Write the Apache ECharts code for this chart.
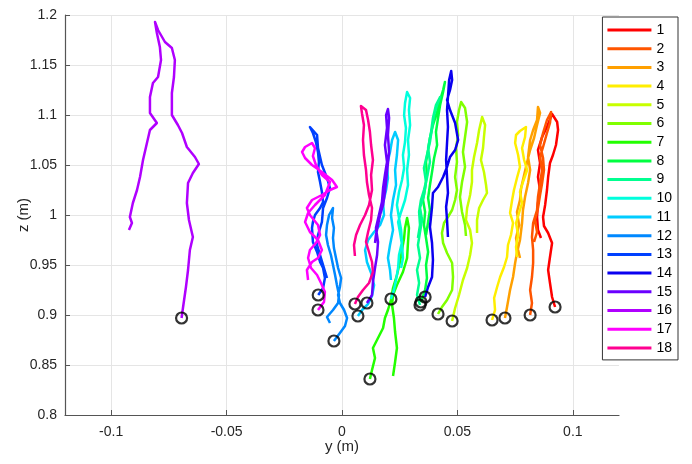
<!DOCTYPE html>
<html>
<head>
<meta charset="utf-8">
<script src="https://cdn.jsdelivr.net/npm/echarts@6/dist/echarts.min.js"></script>
<style>
  html, body { margin: 0; padding: 0; background: #fff; }
  #chart { width: 692px; height: 464px; }
</style>
</head>
<body>
<div id="chart"></div>
<script>
// trajectory labels and colours (hsv-like colormap)
const names = ['1','2','3','4','5','6','7','8','9','10','11','12','13','14','15','16','17','18'];
const colors = ['#ff0000','#ff5500','#ffa000','#ffee00','#c8ff00','#80ff00','#22ff00','#00ff40','#00ff90',
                '#00ffdd','#00ccff','#0088ff','#0040ff','#0a00f0','#6a00ff','#b000ff','#ff00ff','#ff0090'];
const xTicks = [-0.1, -0.05, 0, 0.05, 0.1];

// each trajectory: [y, z] points, first point = start (circled)
const t1 = [[0.0923,0.908],[0.0910,0.918],[0.0901,0.932],[0.0893,0.945],[0.0901,0.958],[0.0910,0.972],[0.0893,0.982],
  [0.0875,0.989],[0.0871,0.998],[0.0880,1.010],[0.0888,1.025],[0.0893,1.038],[0.0901,1.052],[0.0914,1.060],[0.0927,1.070],
  [0.0936,1.085],[0.0932,1.093],[0.0910,1.101],[0.0888,1.088],[0.0867,1.078],[0.0849,1.065],[0.0858,1.052],[0.0849,1.038],
  [0.0858,1.025],[0.0849,1.012],[0.0845,0.998],[0.0849,0.985],[0.0862,0.977]];
const t2 = [[0.0815,0.900],[0.0823,0.912],[0.0815,0.925],[0.0823,0.938],[0.0828,0.952],[0.0828,0.965],[0.0823,0.978],
  [0.0828,0.992],[0.0845,1.005],[0.0849,1.018],[0.0858,1.032],[0.0867,1.045],[0.0858,1.058],[0.0871,1.068],[0.0888,1.082],
  [0.0901,1.092],[0.0906,1.103],[0.0888,1.095],[0.0871,1.082],[0.0858,1.070],[0.0871,1.057],[0.0875,1.045],[0.0867,1.032],
  [0.0858,1.020],[0.0849,1.007],[0.0836,0.995],[0.0845,0.983],[0.0832,0.973]];
const t3 = [[0.0706,0.897],[0.0715,0.908],[0.0728,0.925],[0.0741,0.938],[0.0750,0.952],[0.0758,0.962],[0.0771,0.975],
  [0.0780,0.992],[0.0784,1.005],[0.0793,1.018],[0.0806,1.032],[0.0815,1.045],[0.0806,1.058],[0.0815,1.075],[0.0828,1.085],
  [0.0845,1.095],[0.0849,1.108],[0.0858,1.102],[0.0845,1.090],[0.0832,1.077],[0.0815,1.065],[0.0802,1.053],[0.0789,1.040],
  [0.0776,1.027],[0.0771,1.015],[0.0758,1.003],[0.0767,0.990],[0.0754,0.977],[0.0763,0.965],[0.0771,0.957]];
const t4 = [[0.0650,0.895],[0.0663,0.905],[0.0659,0.917],[0.0672,0.928],[0.0685,0.938],[0.0702,0.948],[0.0715,0.958],
  [0.0719,0.970],[0.0732,0.980],[0.0741,0.992],[0.0728,1.002],[0.0737,1.015],[0.0745,1.025],[0.0758,1.037],[0.0771,1.048],
  [0.0763,1.060],[0.0750,1.072],[0.0754,1.080],[0.0771,1.084],[0.0797,1.088],[0.0793,1.078],[0.0780,1.067],[0.0789,1.055],
  [0.0802,1.045],[0.0784,1.033],[0.0771,1.023],[0.0780,1.012],[0.0767,1.002],[0.0754,0.992],[0.0763,0.980],[0.0754,0.968],
  [0.0758,0.958]];
const t5 = [[0.0477,0.894],[0.0490,0.907],[0.0507,0.920],[0.0524,0.935],[0.0542,0.947],[0.0555,0.960],[0.0563,0.972],
  [0.0555,0.985],[0.0537,0.995],[0.0542,1.007],[0.0555,1.020],[0.0563,1.033],[0.0563,1.045],[0.0572,1.058],[0.0585,1.072],
  [0.0594,1.085],[0.0607,1.098],[0.0620,1.090],[0.0615,1.078],[0.0611,1.067],[0.0602,1.055],[0.0615,1.043],[0.0624,1.030],
  [0.0628,1.022],[0.0611,1.015],[0.0594,1.007],[0.0585,0.995],[0.0585,0.982]];
const t6 = [[0.0416,0.901],[0.0433,0.908],[0.0455,0.915],[0.0477,0.925],[0.0481,0.938],[0.0477,0.952],[0.0455,0.962],
  [0.0438,0.972],[0.0433,0.982],[0.0442,0.992],[0.0459,0.998],[0.0477,1.005],[0.0490,1.015],[0.0498,1.025],[0.0490,1.038],
  [0.0498,1.053],[0.0494,1.067],[0.0503,1.080],[0.0498,1.093],[0.0507,1.105],[0.0516,1.113],[0.0533,1.107],[0.0542,1.093],
  [0.0533,1.078],[0.0524,1.063],[0.0533,1.048],[0.0520,1.033],[0.0511,1.018],[0.0520,1.003],[0.0533,0.990],[0.0537,0.979]];
const t7 = [[0.0121,0.836],[0.0130,0.845],[0.0143,0.857],[0.0134,0.867],[0.0156,0.877],[0.0178,0.887],[0.0186,0.897],
  [0.0199,0.905],[0.0212,0.915],[0.0221,0.927],[0.0238,0.940],[0.0251,0.953],[0.0260,0.965],[0.0269,0.977],[0.0273,0.987],
  [0.0282,0.997],[0.0290,0.987],[0.0286,0.973],[0.0282,0.957],[0.0264,0.943],[0.0238,0.930],[0.0221,0.920],[0.0217,0.910],
  [0.0225,0.897],[0.0230,0.883],[0.0238,0.867],[0.0230,0.853],[0.0221,0.839]];
const t8 = [[0.0342,0.913],[0.0360,0.925],[0.0368,0.937],[0.0364,0.950],[0.0373,0.963],[0.0364,0.977],[0.0355,0.990],
  [0.0360,1.003],[0.0351,1.015],[0.0360,1.027],[0.0368,1.040],[0.0364,1.053],[0.0373,1.065],[0.0381,1.077],[0.0394,1.090],
  [0.0412,1.103],[0.0425,1.115],[0.0438,1.125],[0.0446,1.133],[0.0438,1.123],[0.0425,1.110],[0.0416,1.097],[0.0407,1.083],
  [0.0412,1.070],[0.0399,1.057],[0.0390,1.043],[0.0381,1.030],[0.0373,1.017],[0.0381,1.005],[0.0373,0.993],[0.0364,0.980]];
const t9 = [[0.0338,0.910],[0.0325,0.920],[0.0334,0.932],[0.0325,0.945],[0.0338,0.957],[0.0329,0.970],[0.0338,0.983],
  [0.0347,0.995],[0.0338,1.007],[0.0355,1.020],[0.0364,1.033],[0.0355,1.047],[0.0368,1.060],[0.0381,1.073],[0.0390,1.087],
  [0.0399,1.100],[0.0412,1.110],[0.0425,1.118],[0.0407,1.110],[0.0394,1.097],[0.0386,1.083],[0.0373,1.067],[0.0381,1.053],
  [0.0368,1.037],[0.0355,1.025],[0.0342,1.015],[0.0334,1.003],[0.0338,0.990],[0.0329,0.977]];
const t10 = [[0.0212,0.916],[0.0225,0.925],[0.0234,0.935],[0.0243,0.947],[0.0247,0.960],[0.0260,0.973],[0.0256,0.985],
  [0.0247,0.997],[0.0238,1.010],[0.0247,1.023],[0.0260,1.035],[0.0269,1.047],[0.0264,1.060],[0.0273,1.073],[0.0277,1.087],
  [0.0269,1.100],[0.0273,1.112],[0.0282,1.123],[0.0295,1.117],[0.0290,1.105],[0.0295,1.090],[0.0286,1.075],[0.0290,1.060],
  [0.0282,1.045],[0.0286,1.030],[0.0273,1.015],[0.0256,1.003],[0.0243,0.993],[0.0251,0.983],[0.0260,0.970],[0.0264,0.957],
  [0.0256,0.947]];
const t11 = [[0.0069,0.899],[0.0087,0.905],[0.0113,0.911],[0.0130,0.919],[0.0139,0.930],[0.0126,0.942],[0.0108,0.953],
  [0.0100,0.965],[0.0113,0.975],[0.0139,0.983],[0.0165,0.990],[0.0182,1.000],[0.0178,1.012],[0.0191,1.025],[0.0199,1.037],
  [0.0195,1.050],[0.0208,1.063],[0.0217,1.075],[0.0230,1.083],[0.0243,1.075],[0.0238,1.060],[0.0230,1.045],[0.0234,1.030],
  [0.0221,1.015],[0.0212,1.000],[0.0221,0.985],[0.0208,0.970],[0.0199,0.957],[0.0208,0.945],[0.0212,0.935]];
const t12 = [[-0.0035,0.874],[-0.0009,0.882],[0.0013,0.889],[0.0022,0.897],[0.0009,0.905],[-0.0009,0.912],[-0.0017,0.920],
  [-0.0009,0.928],[-0.0004,0.937],[-0.0017,0.947],[-0.0026,0.957],[-0.0035,0.967],[-0.0039,0.977],[-0.0035,0.987],
  [-0.0043,0.997],[-0.0039,1.007],[-0.0056,1.000],[-0.0065,0.990],[-0.0069,0.980],[-0.0061,0.970],[-0.0048,0.960],
  [-0.0039,0.950],[-0.0030,0.940],[-0.0022,0.930],[-0.0013,0.920],[-0.0017,0.912],[-0.0039,0.905],[-0.0065,0.898],
  [-0.0052,0.892]];
const t13 = [[-0.0103,0.920],[-0.0082,0.927],[-0.0074,0.937],[-0.0082,0.947],[-0.0095,0.953],[-0.0108,0.963],[-0.0126,0.973],
  [-0.0130,0.987],[-0.0126,0.993],[-0.0117,1.000],[-0.0095,1.007],[-0.0082,1.013],[-0.0087,1.023],[-0.0095,1.033],
  [-0.0104,1.043],[-0.0100,1.053],[-0.0104,1.063],[-0.0113,1.073],[-0.0126,1.082],[-0.0139,1.088],[-0.0108,1.080],
  [-0.0104,1.067],[-0.0087,1.050],[-0.0065,1.037],[-0.0052,1.027],[-0.0065,1.017],[-0.0082,1.007],[-0.0087,0.993],
  [-0.0104,0.980],[-0.0108,0.970],[-0.0095,0.960],[-0.0082,0.950],[-0.0065,0.937]];
const t14 = [[0.0360,0.918],[0.0373,0.928],[0.0390,0.938],[0.0394,0.955],[0.0390,0.972],[0.0381,0.988],[0.0390,1.008],
  [0.0394,1.022],[0.0416,1.028],[0.0438,1.038],[0.0455,1.048],[0.0468,1.058],[0.0490,1.065],[0.0503,1.075],[0.0490,1.092],
  [0.0468,1.105],[0.0455,1.115],[0.0468,1.125],[0.0477,1.135],[0.0473,1.144],[0.0464,1.135],[0.0459,1.118],[0.0455,1.105],
  [0.0459,1.088],[0.0455,1.072],[0.0451,1.055],[0.0455,1.038],[0.0459,1.022],[0.0451,1.008],[0.0455,0.995],[0.0459,0.978]];
const t15 = [[0.0108,0.912],[0.0130,0.920],[0.0134,0.933],[0.0143,0.947],[0.0152,0.960],[0.0156,0.973],[0.0147,0.987],
  [0.0160,1.000],[0.0173,1.013],[0.0178,1.027],[0.0186,1.040],[0.0195,1.053],[0.0186,1.070],[0.0195,1.087],[0.0191,1.100],
  [0.0199,1.106],[0.0204,1.097],[0.0199,1.080],[0.0204,1.063],[0.0195,1.043],[0.0186,1.023],[0.0178,1.010],[0.0165,1.000],
  [0.0156,0.990],[0.0147,0.980],[0.0143,0.972]];
const t16 = [[-0.0695,0.897],[-0.0689,0.907],[-0.0676,0.928],[-0.0667,0.945],[-0.0659,0.965],[-0.0646,0.978],[-0.0663,0.995],
  [-0.0672,1.012],[-0.0667,1.032],[-0.0646,1.042],[-0.0620,1.051],[-0.0637,1.058],[-0.0672,1.068],[-0.0693,1.082],
  [-0.0711,1.090],[-0.0737,1.100],[-0.0737,1.122],[-0.0728,1.138],[-0.0724,1.155],[-0.0737,1.167],[-0.0767,1.173],
  [-0.0797,1.185],[-0.0810,1.193],[-0.0802,1.182],[-0.0789,1.168],[-0.0784,1.155],[-0.0797,1.138],[-0.0819,1.132],
  [-0.0832,1.118],[-0.0832,1.102],[-0.0802,1.092],[-0.0832,1.085],[-0.0845,1.072],[-0.0862,1.055],[-0.0875,1.038],
  [-0.0888,1.025],[-0.0906,1.012],[-0.0919,0.998],[-0.0910,0.992],[-0.0923,0.985]];
const t17 = [[-0.0104,0.905],[-0.0078,0.913],[-0.0074,0.923],[-0.0091,0.932],[-0.0108,0.940],[-0.0134,0.947],[-0.0147,0.957],
  [-0.0139,0.965],[-0.0113,0.972],[-0.0095,0.980],[-0.0104,0.990],[-0.0139,1.000],[-0.0152,1.007],[-0.0130,1.015],
  [-0.0087,1.020],[-0.0052,1.025],[-0.0022,1.028],[-0.0043,1.035],[-0.0087,1.043],[-0.0130,1.050],[-0.0160,1.057],
  [-0.0173,1.063],[-0.0160,1.068],[-0.0130,1.072],[-0.0117,1.067],[-0.0126,1.059],[-0.0113,1.050],[-0.0087,1.040],
  [-0.0052,1.033],[-0.0074,1.020],[-0.0117,1.010],[-0.0147,1.002],[-0.0160,0.993],[-0.0139,0.983],[-0.0104,0.975],
  [-0.0087,0.965],[-0.0104,0.957],[-0.0130,0.953],[-0.0152,0.945],[-0.0147,0.935]];
const t18 = [[0.0056,0.911],[0.0069,0.918],[0.0091,0.925],[0.0117,0.932],[0.0134,0.943],[0.0130,0.953],[0.0117,0.963],
  [0.0104,0.973],[0.0113,0.983],[0.0126,0.995],[0.0130,1.007],[0.0117,1.020],[0.0108,1.033],[0.0104,1.045],[0.0095,1.060],
  [0.0091,1.075],[0.0095,1.090],[0.0087,1.101],[0.0082,1.109],[0.0104,1.105],[0.0113,1.095],[0.0121,1.083],[0.0126,1.070],
  [0.0134,1.055],[0.0126,1.040],[0.0130,1.025],[0.0117,1.010],[0.0100,1.000],[0.0078,0.990],[0.0061,0.980],[0.0052,0.970],
  [0.0056,0.959]];

const paths = [t1, t2, t3, t4, t5, t6, t7, t8, t9, t10, t11, t12, t13, t14, t15, t16, t17, t18];

const chart = echarts.init(document.getElementById('chart'));

const font = 'Liberation Sans, Arial, Helvetica, sans-serif';
const series = paths.map((p, i) => ({
  name: names[i],
  type: 'line',
  data: p,
  symbol: 'none',
  showSymbol: false,
  lineStyle: { width: 2.5, color: colors[i], join: 'round' },
  itemStyle: { color: colors[i] },
  z: 2,
}));
series.push({
  type: 'scatter',
  data: paths.map((p) => p[0]),
  symbol: 'circle',
  symbolSize: 11,
  itemStyle: { color: 'rgba(0,0,0,0)', borderColor: '#000', borderWidth: 2.2 },
  silent: true,
  z: 3,
});

chart.setOption({
  animation: false,
  backgroundColor: '#fff',
  grid: { left: 65, right: 73, top: 15, bottom: 49 },
  legend: {
    data: names,
    orient: 'vertical',
    right: 14,
    top: 17,
    padding: [6, 6, 5, 5],
    itemGap: 4.7,
    itemWidth: 44,
    itemHeight: 3,
    icon: 'rect',
    backgroundColor: '#fff',
    borderColor: '#333',
    borderWidth: 1,
    borderRadius: 0,
    textStyle: { fontFamily: font, fontSize: 14, color: '#000' },
  },
  xAxis: {
    type: 'value',
    min: -0.12,
    max: 0.12,
    name: 'y (m)',
    nameLocation: 'middle',
    nameGap: 24,
    nameMoveOverlap: false,
    nameTextStyle: { fontFamily: font, fontSize: 15, color: '#262626' },
    axisLine: { show: true, onZero: false, lineStyle: { color: '#555', width: 1.2 } },
    axisTick: { show: true, inside: true, length: 5, customValues: xTicks, lineStyle: { color: '#555' } },
    axisLabel: { customValues: xTicks, fontFamily: font, fontSize: 14, color: '#262626', margin: 10 },
    splitLine: { show: true, lineStyle: { color: '#e5e5e5', width: 1 } },
  },
  yAxis: {
    type: 'value',
    min: 0.8,
    max: 1.2,
    interval: 0.05,
    name: 'z (m)',
    nameLocation: 'middle',
    nameGap: 34,
    nameMoveOverlap: false,
    nameTextStyle: { fontFamily: font, fontSize: 15, color: '#262626' },
    axisLine: { show: true, onZero: false, lineStyle: { color: '#555', width: 1.2 } },
    axisTick: { show: true, inside: true, length: 5, lineStyle: { color: '#555' } },
    axisLabel: { fontFamily: font, fontSize: 14, color: '#262626', margin: 8 },
    splitLine: { show: true, lineStyle: { color: '#e5e5e5', width: 1 } },
  },
  series: series,
});
</script>
</body>
</html>
